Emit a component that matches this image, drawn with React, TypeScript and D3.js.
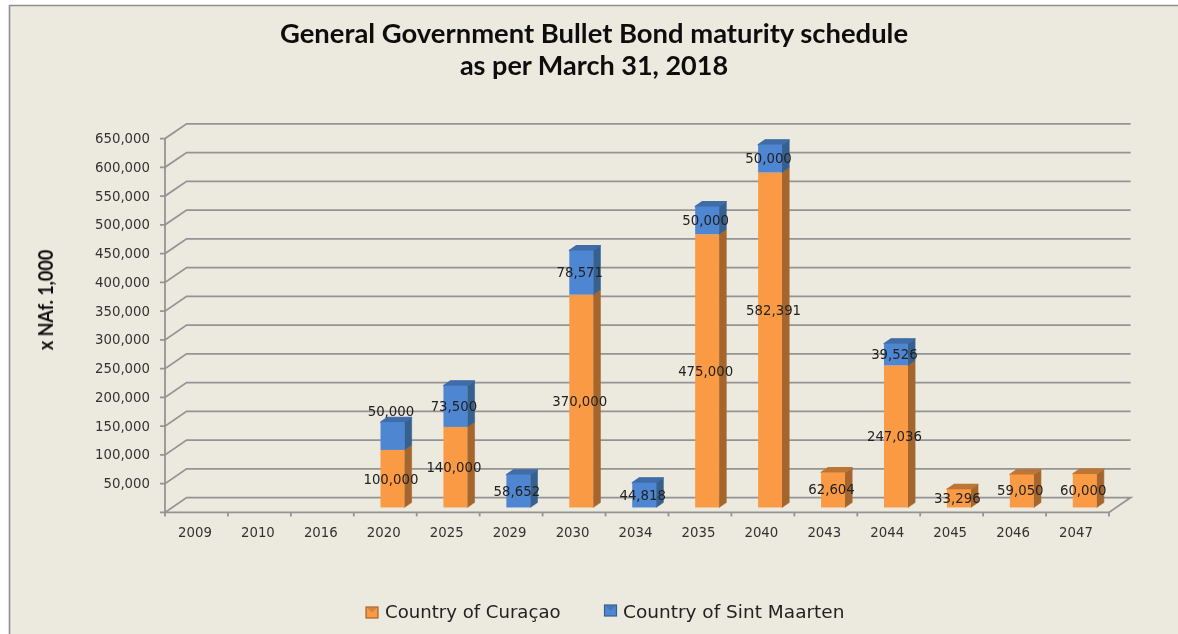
import React from 'react';
import * as d3 from 'd3';

const years = ['2009', '2010', '2016', '2020', '2025', '2029', '2030', '2034', '2035', '2040', '2043', '2044', '2045', '2046', '2047'];
const curacao = [0, 0, 0, 100000, 140000, 0, 370000, 0, 475000, 582391, 62604, 247036, 33296, 59050, 60000];
const sintMaarten = [0, 0, 0, 50000, 73500, 58652, 78571, 44818, 50000, 50000, 0, 39526, 0, 0, 0];
const yTicks = [50000, 100000, 150000, 200000, 250000, 300000, 350000, 400000, 450000, 500000, 550000, 600000, 650000];
const seriesNames = ['Country of Curaçao', 'Country of Sint Maarten'];

const width = 1178;
const height = 634;
const left = 165;
const right = 1109;
const base = 512.4;
const top = 138.6;
// the 3d look: wall sits this far behind the front plane, bars take a third of it
const depthX = 21.6;
const depthY = 14.8;
const barDX = depthX / 3;
const barDY = depthY / 3;

const palette = [
	{ front: '#fb9a45', side: '#a5662f', roof: '#bd7636' },
	{ front: '#4f86d2', side: '#36608f', roof: '#3f6ca8' },
];

// labels the original chart dragged away from the middle of their segment
const labelNudge: Record<string, [number, number]> = {
	'2020-1': [0, -25],
	'2040-0': [5, -30],
};

const fmt = d3.format(',');

export default function App() {
	const x = d3.scaleBand<string>().domain(years).range([left, right]).paddingInner(0.62).paddingOuter(0.31);
	const y = d3.scaleLinear().domain([0, 650000]).range([base, top]);

	const rows = years.map((year, i) => ({ year, a: curacao[i], b: sintMaarten[i] }));
	const stacked = d3.stack<any>().keys(['a', 'b'])(rows);

	const tickXs = years.map((yr) => x(yr)! - (x.step() - x.bandwidth()) / 2);
	tickXs.push(right);

	const poly = (pts: number[][]) => pts.map((p) => p.join(',')).join(' ');

	return (
		<svg width={width} height={height} style={{ position: 'absolute', left: 0, top: 0, display: 'block' }}>
			<defs>
				<filter id="soft" x="-5%" y="-5%" width="110%" height="110%">
					<feGaussianBlur stdDeviation="0.5" />
				</filter>
			</defs>
			<rect width={width} height={height} fill="#fff" />
			<rect x={9} y={5} width={width - 9} height={height - 5} fill="#ece9df" />
			<path d={`M9.5,${height}V5.5H${width}`} fill="none" stroke="#8f8f8f" strokeWidth={1.6} />

			<g filter="url(#soft)">
				<g fontFamily="Lato, Carlito, sans-serif" fontWeight={700} fill="#111" textAnchor="middle">
					<text x={594} y={43} fontSize={27.4}>General Government Bullet Bond maturity schedule</text>
					<text x={594} y={75} fontSize={27}>as per March 31, 2018</text>
				</g>
				<text
					transform="translate(53,300) rotate(-90) scale(0.9,1)"
					textAnchor="middle"
					fontFamily="Lato, sans-serif"
					fontWeight={700}
					fontSize={20}
					fill="#111"
				>
					x NAf. 1,000
				</text>

				{/* walls and gridlines */}
				<g stroke="#949494" strokeWidth={1.8} fill="none">
					<line x1={left} x2={left} y1={top} y2={base + 1} />
					<line x1={left - 5} x2={right} y1={base} y2={base} />
					<polyline points={poly([[left, base], [left + depthX, base - depthY], [right + depthX, base - depthY], [right, base]])} />
					{yTicks.map((t) => (
						<polyline
							key={t}
							points={poly([[left - 5, y(t)], [left, y(t)], [left + depthX, y(t) - depthY], [right + depthX, y(t) - depthY]])}
						/>
					))}
					{tickXs.map((tx, i) => (
						<line key={i} x1={tx} x2={tx} y1={base} y2={base + 4} />
					))}
				</g>

				<g fontFamily="'DejaVu Sans', Verdana, sans-serif" fontSize={13.3} fill="#333">
					{yTicks.map((t) => (
						<text key={t} x={150} y={y(t) + 4.5} textAnchor="end">
							{fmt(t)}
						</text>
					))}
					{years.map((yr) => (
						<text key={yr} x={x(yr)! + x.bandwidth() / 2 - 1.5} y={537} textAnchor="middle">
							{yr}
						</text>
					))}
				</g>

				{/* bars, left to right so the sides overlap properly */}
				{years.map((yr, i) => (
					<g key={yr}>
						{stacked.map((layer, s) => {
							const [v0, v1] = layer[i];
							if (v1 === v0) return null;
							const x0 = x(yr)! + barDX;
							const x1 = x0 + x.bandwidth();
							const isTop = s === 1 || sintMaarten[i] === 0;
							// roof edge reads about a pixel lower than the value, the corner is bevelled
							const yTop = y(v1) - barDY + (isTop ? 1 : 0);
							const yBot = y(v0) - barDY;
							const c = palette[s];
							return (
								<g key={s}>
									<polygon
										points={poly([[x1, yTop], [x1 + barDX, yTop - barDY], [x1 + barDX, yBot - barDY], [x1, yBot]])}
										fill={c.side}
										stroke={c.side}
										strokeWidth={0.6}
									/>
									{isTop && (
										<polygon
											points={poly([[x0, yTop], [x0 + barDX, yTop - barDY], [x1 + barDX, yTop - barDY], [x1, yTop]])}
											fill={c.roof}
											stroke={c.roof}
											strokeWidth={1.2}
											strokeLinejoin="round"
										/>
									)}
									<rect x={x0} y={yTop} width={x.bandwidth()} height={yBot - yTop} fill={c.front} />
								</g>
							);
						})}
					</g>
				))}

				{/* data labels */}
				<g fontFamily="'DejaVu Sans', Verdana, sans-serif" fontSize={13.3} fill="#222" textAnchor="middle">
					{years.map((yr, i) =>
						stacked.map((layer, s) => {
							const [v0, v1] = layer[i];
							if (v1 === v0) return null;
							const nudge = labelNudge[`${yr}-${s}`] || [0, 0];
							const lx = x(yr)! + barDX + x.bandwidth() / 2 - 1.5 + nudge[0];
							const ly = (y(v0) + y(v1)) / 2 - barDY + nudge[1];
							return (
								<text key={`${yr}${s}`} x={lx} y={ly + 5}>
									{fmt(v1 - v0)}
								</text>
							);
						})
					)}
				</g>

				{/* legend */}
				{seriesNames.map((name, s) => {
					const lx = s === 0 ? 366 : 604.5;
					const ly = s === 0 ? 607 : 605;
					return (
						<g key={name}>
							<rect x={lx} y={ly} width={12} height={11} fill={palette[s].front} stroke={palette[s].side} strokeWidth={1.2} />
							<polygon points={poly([[lx, ly], [lx + 12, ly], [lx + 6, ly + 5.5]])} fill={palette[s].roof} opacity={0.6} />
							<text x={s === 0 ? 385 : 623} y={618} fontFamily="'DejaVu Sans', Verdana, sans-serif" fontSize={s === 0 ? 18.1 : 18.5} fill="#222">
								{name}
							</text>
						</g>
					);
				})}
			</g>
		</svg>
	);
}
